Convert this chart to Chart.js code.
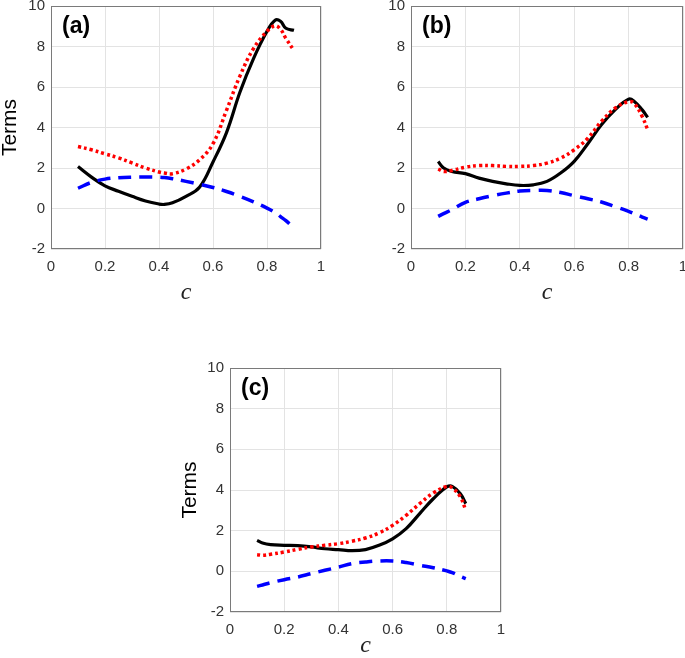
<!DOCTYPE html>
<html>
<head>
<meta charset="utf-8">
<script src="https://cdn.jsdelivr.net/npm/chart.js@4.4.0/dist/chart.umd.min.js"></script>
<style>
  body { margin: 0; background: #fff; width: 685px; height: 658px; overflow: hidden; position: relative; }
  canvas { position: absolute; }
</style>
</head>
<body>
<canvas id="pa" width="340" height="305" style="left:0;top:0"></canvas>
<canvas id="pb" width="345" height="305" style="left:340px;top:0"></canvas>
<canvas id="pc" width="330" height="308" style="left:180px;top:350px"></canvas>
<script>
// values
const cA = [0.1, 0.15, 0.2, 0.25, 0.3, 0.35, 0.4, 0.42, 0.45, 0.5, 0.55, 0.6, 0.65, 0.7, 0.75, 0.8, 0.83, 0.85, 0.87, 0.9];
const solidA  = [2.07, 1.55, 1.12, 0.85, 0.6, 0.37, 0.22, 0.2, 0.28, 0.6, 1.05, 2.3, 3.75, 5.75, 7.4, 8.75, 9.3, 9.25, 8.9, 8.8];
const dottedA = [3.06, 2.9, 2.7, 2.5, 2.25, 2.0, 1.8, 1.75, 1.72, 1.95, 2.4, 3.2, 4.85, 6.55, 7.9, 8.75, 9.02, 8.85, 8.4, 7.8];
const dashedA = [1.0, 1.29, 1.45, 1.52, 1.55, 1.56, 1.55, 1.53, 1.47, 1.34, 1.2, 1.04, 0.84, 0.6, 0.33, 0.02, -0.2, -0.4, -0.6, -0.97];

const cB = [0.1, 0.12, 0.15, 0.2, 0.25, 0.3, 0.35, 0.4, 0.45, 0.5, 0.55, 0.6, 0.65, 0.7, 0.75, 0.8, 0.82, 0.85, 0.87];
const solidB  = [2.32, 2.0, 1.83, 1.72, 1.5, 1.34, 1.22, 1.14, 1.17, 1.34, 1.75, 2.33, 3.2, 4.13, 4.87, 5.4, 5.3, 4.87, 4.5];
const dottedB = [1.95, 1.83, 1.88, 2.04, 2.12, 2.12, 2.08, 2.08, 2.12, 2.24, 2.49, 2.9, 3.47, 4.3, 4.95, 5.28, 5.2, 4.54, 3.9];
const dashedB = [-0.39, -0.25, -0.06, 0.3, 0.48, 0.63, 0.76, 0.86, 0.89, 0.89, 0.79, 0.63, 0.48, 0.32, 0.1, -0.14, -0.25, -0.42, -0.52];

const cC = [0.1, 0.12, 0.15, 0.2, 0.25, 0.3, 0.35, 0.4, 0.45, 0.5, 0.55, 0.6, 0.65, 0.7, 0.75, 0.8, 0.82, 0.85, 0.87];
const solidC  = [1.52, 1.39, 1.31, 1.28, 1.26, 1.2, 1.11, 1.07, 1.02, 1.07, 1.28, 1.6, 2.1, 2.84, 3.57, 4.15, 4.18, 3.82, 3.33];
const dottedC = [0.82, 0.79, 0.84, 0.95, 1.08, 1.2, 1.28, 1.36, 1.48, 1.64, 1.89, 2.26, 2.75, 3.33, 3.85, 4.18, 4.11, 3.66, 3.0];
const dashedC = [-0.74, -0.67, -0.56, -0.41, -0.28, -0.11, 0.05, 0.21, 0.38, 0.46, 0.51, 0.51, 0.43, 0.3, 0.18, 0.02, -0.06, -0.25, -0.36];

const xTicks = [0, 0.2, 0.4, 0.6, 0.8, 1];
const yTicks = [-2, 0, 2, 4, 6, 8, 10];

const pts = (xs, ys) => xs.map((x, i) => ({ x, y: ys[i] }));

// frame box + panel letter
const boxPlugin = {
  id: 'box',
  afterDraw(chart, args, opts) {
    const { ctx, chartArea: a } = chart;
    ctx.save();
    ctx.strokeStyle = '#7a7a7a';
    ctx.lineWidth = 1;
    ctx.strokeRect(a.left + 0.5, a.top + 0.5, a.right - a.left - 1, a.bottom - a.top - 1);
    ctx.fillStyle = '#000';
    ctx.font = 'bold 23px "Liberation Sans", Arial, sans-serif';
    ctx.textBaseline = 'alphabetic';
    ctx.fillText(opts.label, a.left + 11, a.top + 27);
    ctx.restore();
  }
};

function makePanel(id, cs, solid, dotted, dashed, label, showTerms, yW, xH, pad) {
  new Chart(document.getElementById(id), {
    type: 'line',
    data: {
      datasets: [
        { data: pts(cs, dashed), borderColor: '#0000ff', borderWidth: 3.5, borderDash: [13, 8], pointRadius: 0, tension: 0.4 },
        { data: pts(cs, dotted), borderColor: '#ff0000', borderWidth: 3.5, borderDash: [3, 3], pointRadius: 0, tension: 0.4 },
        { data: pts(cs, solid), borderColor: '#000000', borderWidth: 3.2, pointRadius: 0, tension: 0.4 }
      ]
    },
    options: {
      responsive: false,
      animation: false,
      devicePixelRatio: 1,
      layout: { padding: pad },
      plugins: { legend: { display: false }, tooltip: { enabled: false }, box: { label } },
      scales: {
        x: {
          type: 'linear', min: 0, max: 1,
          afterBuildTicks: s => { s.ticks = xTicks.map(v => ({ value: v })); },
          afterFit: s => { s.height = xH; s.paddingLeft = 0; s.paddingRight = 0; },
          grid: { color: '#e3e3e3', drawTicks: false },
          border: { display: false },
          ticks: { padding: 9, color: '#333', font: { family: '"Liberation Sans", Arial, sans-serif', size: 15 }, maxRotation: 0,
                   callback: v => String(v) },
          title: { display: true, text: 'c', color: '#222', padding: 0,
                   font: { family: '"Liberation Serif", "Times New Roman", serif', style: 'italic', size: 24, lineHeight: 1 } }
        },
        y: {
          min: -2, max: 10,
          afterBuildTicks: s => { s.ticks = yTicks.map(v => ({ value: v })); },
          afterFit: s => { s.width = yW; s.paddingTop = 0; s.paddingBottom = 0; },
          grid: { color: '#e3e3e3', drawTicks: false },
          border: { display: false },
          ticks: { padding: 6, color: '#333', font: { family: '"Liberation Sans", Arial, sans-serif', size: 15 },
                   callback: v => String(v) },
          title: { display: showTerms, text: 'Terms', color: '#000', padding: 0,
                   font: { family: '"Liberation Sans", Arial, sans-serif', size: 21, lineHeight: 1 } }
        }
      }
    },
    plugins: [boxPlugin]
  });
}

makePanel('pa', cA, solidA, dottedA, dashedA, '(a)', true, 51, 56, { top: 6, right: 19, left: 0, bottom: 0 });
makePanel('pb', cB, solidB, dottedB, dashedB, '(b)', false, 71, 56, { top: 6, right: 2, left: 0, bottom: 0 });
makePanel('pc', cC, solidC, dottedC, dashedC, '(c)', true, 50, 46, { top: 18, right: 9, left: 0, bottom: 0 });
</script>
</body>
</html>
